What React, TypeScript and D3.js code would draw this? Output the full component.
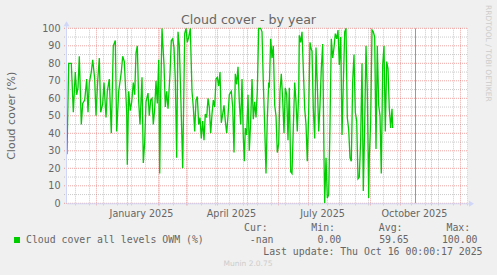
import React from "react";
import * as d3 from "d3";

// ---- data ----
const startDate = "2024-11-02";
const endDate = "2025-12-08";
const lastUpdateDate = "2025-10-16";
const dayOffsets: number[] = [
  0.5, 2.2, 4.8, 6.8, 8.8, 10.2, 11.5, 12.8, 14.8, 16.2, 18.2, 20.2, 21.5, 22.8, 24.8, 26.2,
  28.2, 29.5, 31.2, 32.8, 34.2, 36.2, 37.5, 39.5, 40.8, 42.8, 44.8, 46.8, 48.8, 50.2, 52.2,
  54.8, 56.2, 57.8, 60.2, 60.8, 62.2, 63.8, 65.2, 66.8, 68.2, 69.5, 70.8, 72.2, 73.5, 75.5,
  76.8, 78.2, 79.5,
  81.5, 82.8, 84.2, 85.5, 86.8, 88.2, 89.5, 90.8, 92.2, 93.2, 94.2, 95.5, 97.5, 98.8, 100.2,
  101.5, 103.5, 104.8, 106.2, 107.5, 108.8, 110.2, 111.5, 112.8, 114.2, 116.2, 118.2, 119.5,
  120.8, 122.2, 123.8, 125.5, 126.8, 128.2, 129.5, 130.8, 132.2, 133.5, 134.8, 136.2, 137.5,
  138.8, 140.2, 141.5, 142.8, 144.2, 145.5, 146.8, 148.2, 149.5, 150.8, 152.2, 153.5, 154.8,
  156.2, 157.5, 158.8, 160.2, 161.5, 162.8,
  164.8, 166.2, 167.5, 168.8, 170.2, 171.5, 172.8, 174.2, 175.5, 176.8, 177.8, 178.8, 180.2,
  181.5, 182.8, 184.2, 185.5, 186.8, 188.2, 189.5, 190.8, 192.2, 194.2, 195.5, 196.8, 198.2,
  199.5, 200.8, 202.2, 202.8, 204.2, 205.5, 206.8, 208.2, 209.5, 210.8, 212.2, 213.5, 214.8,
  216.2, 217.5, 218.8, 220.2, 221.5, 222.8, 224.2, 225.5, 226.8, 228.2, 229.5, 230.8, 232.2,
  232.8, 234.2, 235.5, 236.8, 238.2, 239.5, 240.8, 242.2, 243.5, 244.8,
  245.5, 246.8, 248.2, 249.5, 250.8, 252.2, 253.5, 254.8, 256.2, 257.5, 258.2, 259.5, 260.8,
  262.2, 263.5, 264.8, 266.2, 267.5, 268.8, 270.2, 271.5, 272.8, 274.2, 275.5, 276.8, 278.2,
  279.5, 280.8, 282.2, 283.5, 284.8, 286.2, 287.5, 288.8, 290.2, 291.5, 292.8, 294.2, 295.5,
  296.8, 298.2, 299.5, 300.8, 302.2, 302.8, 304.2, 305.5, 306.8, 308.2, 309.5, 310.8, 312.2,
  313.5, 314.8, 316.2, 317.5, 318.8, 320.2, 321.5, 322.8, 324.2, 325.5, 326.2,
];
const cloudCover: number[] = [
  28, 80, 80, 52, 75, 62, 66, 84, 45, 57, 59, 71, 52, 69, 75, 82,
  71, 50, 70, 83, 52, 57, 69, 49, 64, 71, 40, 90, 93, 41, 64,
  75, 84, 81, 52, 22, 64, 53, 58, 69, 62, 86, 90, 58, 45, 72,
  23, 35, 58,
  63, 50, 59, 60, 45, 54, 70, 57, 82, 17, 62, 100, 79, 55, 64,
  54, 74, 93, 94, 89, 71, 26, 98, 90, 63, 20, 97, 100,
  92, 95, 100, 64, 55, 41, 59, 61, 45, 49, 37, 47, 36,
  51, 49, 60, 55, 40, 51, 59, 55, 71, 72, 67, 75, 46,
  51, 56, 47, 40, 50, 62,
  64, 55, 29, 74, 68, 78, 58, 45, 71, 38, 24, 43, 39,
  62, 30, 47, 71, 48, 58, 49, 64, 100, 100, 98, 69, 44,
  17, 48, 69, 66, 94, 83, 90, 56, 50, 29, 34, 64, 74,
  59, 40, 66, 62, 36, 66, 18, 17, 43, 69, 58, 41, 64,
  96, 92, 98, 77, 54, 45, 24, 53, 92, 88,
  87, 54, 37, 89, 68, 41, 56, 77, 91, 26, 0, 26, 3,
  5, 45, 94, 83, 89, 97, 94, 99, 79, 95, 39, 68, 98,
  100, 49, 42, 26, 24, 70, 85, 52, 47, 14, 15, 37, 80,
  7, 45, 90, 64, 3, 26, 47, 99, 98, 95, 31, 90, 56,
  50, 17, 79, 90, 41, 81, 77, 54, 43, 54, 43,
];
const yTicks: number[] = [0, 10, 20, 30, 40, 50, 60, 70, 80, 90, 100];
const monthLabels: { date: string; label: string }[] = [
  { date: "2025-01-16", label: "January 2025" },
  { date: "2025-04-16", label: "April 2025" },
  { date: "2025-07-16", label: "July 2025" },
  { date: "2025-10-16", label: "October 2025" },
];
const minorGridStart = "2024-11-10";
const legendHeaders = ["Cur:", "Min:", "Avg:", "Max:"];
const legendValues = ["-nan", "0.00", "59.65", "100.00"];
const seriesName = "Cloud cover all levels OWM (%)";
const title = "Cloud cover - by year";
const yLabel = "Cloud cover (%)";
const lastUpdate = "Last update: Thu Oct 16 00:00:17 2025";

const W = 497;
const H = 275;
const SANS = "'DejaVu Sans', sans-serif";
const MONO = "'DejaVu Sans Mono', monospace";
const FONT = "#666666";
const AXIS = "#CFD6F8";
const MGRID = "rgba(220,60,60,0.45)";
const GRID = "rgba(128,128,128,0.4)";
const LINE = "#00CC00";

const parse = (s: string) => new Date(s + "T00:00:00Z");

export default function App() {
  const t0 = parse(startDate);
  const t1 = parse(endDate);
  const x = d3.scaleUtc().domain([t0, t1]).range([66.5, 467.5]);
  const y = d3.scaleLinear().domain([0, 100]).range([203.3, 28.3]);
  const left = 67;
  const right = 468;
  const top = y(100);
  const bottom = y(0);

  const pts = dayOffsets.map((d, i) => ({
    t: d3.utcDay.offset(t0, 0).getTime() + d * 86400000,
    v: cloudCover[i],
  }));
  const line = d3
    .line<{ t: number; v: number }>()
    .x((p) => x(new Date(p.t)))
    .y((p) => y(p.v));

  const majorX = d3.utcMonth.range(d3.utcMonth.ceil(t0), t1);
  const minorX = d3.utcDay
    .range(parse(minorGridStart), t1)
    .filter((_, i) => i % 14 === 0);
  const halfTicks = d3.range(5, 100, 10);

  const nowX = Math.round(x(parse(lastUpdateDate))) + 0.5;

  return (
    <svg
      width={W}
      height={H}
      style={{ position: "absolute", left: 0, top: 0, display: "block" }}
      xmlns="http://www.w3.org/2000/svg"
    >
      <rect x={0} y={0} width={W} height={H} fill="#F0F0F0" />
      <rect x={left} y={top} width={right - left} height={bottom - top} fill="#FFFFFF" />

      {/* minor grid */}
      <g stroke={GRID} strokeDasharray="1,1" strokeWidth={1}>
        {halfTicks.map((v) => (
          <line key={"hy" + v} x1={64} x2={right} y1={y(v)} y2={y(v)} />
        ))}
        {minorX.map((d, i) => {
          const xx = Math.round(x(d)) + 0.5;
          return <line key={"mx" + i} x1={xx} x2={xx} y1={top} y2={bottom + 2} />;
        })}
      </g>
      {/* major grid */}
      <g stroke={MGRID} strokeDasharray="1,1" strokeWidth={1}>
        {yTicks.map((v) => (
          <line key={"y" + v} x1={64} x2={right} y1={y(v)} y2={y(v)} />
        ))}
        {majorX.map((d, i) => {
          const xx = Math.round(x(d)) + 0.5;
          return <line key={"MX" + i} x1={xx} x2={xx} y1={top} y2={bottom + 3} />;
        })}
      </g>

      {/* now line */}
      <line x1={nowX} x2={nowX} y1={top} y2={bottom} stroke="#999999" strokeWidth={1} />

      {/* data */}
      <path d={line(pts) || ""} fill="none" stroke={LINE} strokeWidth={1.3} strokeLinejoin="miter" />

      {/* axes */}
      <line x1={left - 0.5} x2={left - 0.5} y1={bottom} y2={top - 4} stroke={AXIS} />
      <line x1={left} x2={right + 2} y1={bottom + 0.5} y2={bottom + 0.5} stroke={AXIS} />
      <path
        d={`M${left - 3.5},${top - 2} L${left + 2.5},${top - 2} L${left - 0.5},${top - 7} Z`}
        fill={AXIS}
      />
      <path
        d={`M${right + 1},${bottom - 2.5} L${right + 1},${bottom + 3.5} L${right + 6},${bottom + 0.5} Z`}
        fill={AXIS}
      />

      {/* y tick labels */}
      <g fontFamily={SANS} fontSize={9.6} fill={FONT} textAnchor="end">
        {yTicks.map((v) => (
          <text key={"yl" + v} x={60.5} y={y(v)} dy="0.36em">
            {v}
          </text>
        ))}
      </g>
      {/* x labels */}
      <g fontFamily={SANS} fontSize={9.6} fill={FONT} textAnchor="middle">
        {monthLabels.map((m) => (
          <text key={m.label} x={x(parse(m.date))} y={216.5}>
            {m.label}
          </text>
        ))}
      </g>

      {/* title */}
      <text x={W / 2} y={23.5} textAnchor="middle" fontFamily={SANS} fontSize={12.6} fill={FONT}>
        {title}
      </text>
      {/* y label */}
      <text
        transform={`translate(14.5,${(top + bottom) / 2}) rotate(-90)`}
        textAnchor="middle"
        fontFamily={SANS}
        fontSize={11}
        fill={FONT}
      >
        {yLabel}
      </text>
      {/* rrdtool watermark */}
      <text
        transform="translate(485.5,5) rotate(90)"
        fontFamily={SANS}
        fontSize={7.5}
        fill="#CCCCCC"
      >
        RRDTOOL / TOBI OETIKER
      </text>

      {/* legend */}
      <rect x={14} y={237} width={6} height={6} fill={LINE} />
      <g fontFamily={MONO} fontSize={9.85} fill={FONT}>
        <text x={26} y={243}>
          {seriesName}
        </text>
        {legendHeaders.map((h, i) => (
          <text key={h} x={[244, 311.3, 378.8, 446.5][i]} y={230.7}>
            {h}
          </text>
        ))}
        {legendValues.map((v, i) => (
          <text key={"v" + i} x={[273.5, 341.3, 408.8, 477.5][i]} y={243} textAnchor="end">
            {v}
          </text>
        ))}
        <text x={482.5} y={255} textAnchor="end">
          {lastUpdate}
        </text>
      </g>
      <text x={248} y={266} textAnchor="middle" fontFamily={SANS} fontSize={7.5} fill="#CCCCCC">
        Munin 2.0.75
      </text>
    </svg>
  );
}
